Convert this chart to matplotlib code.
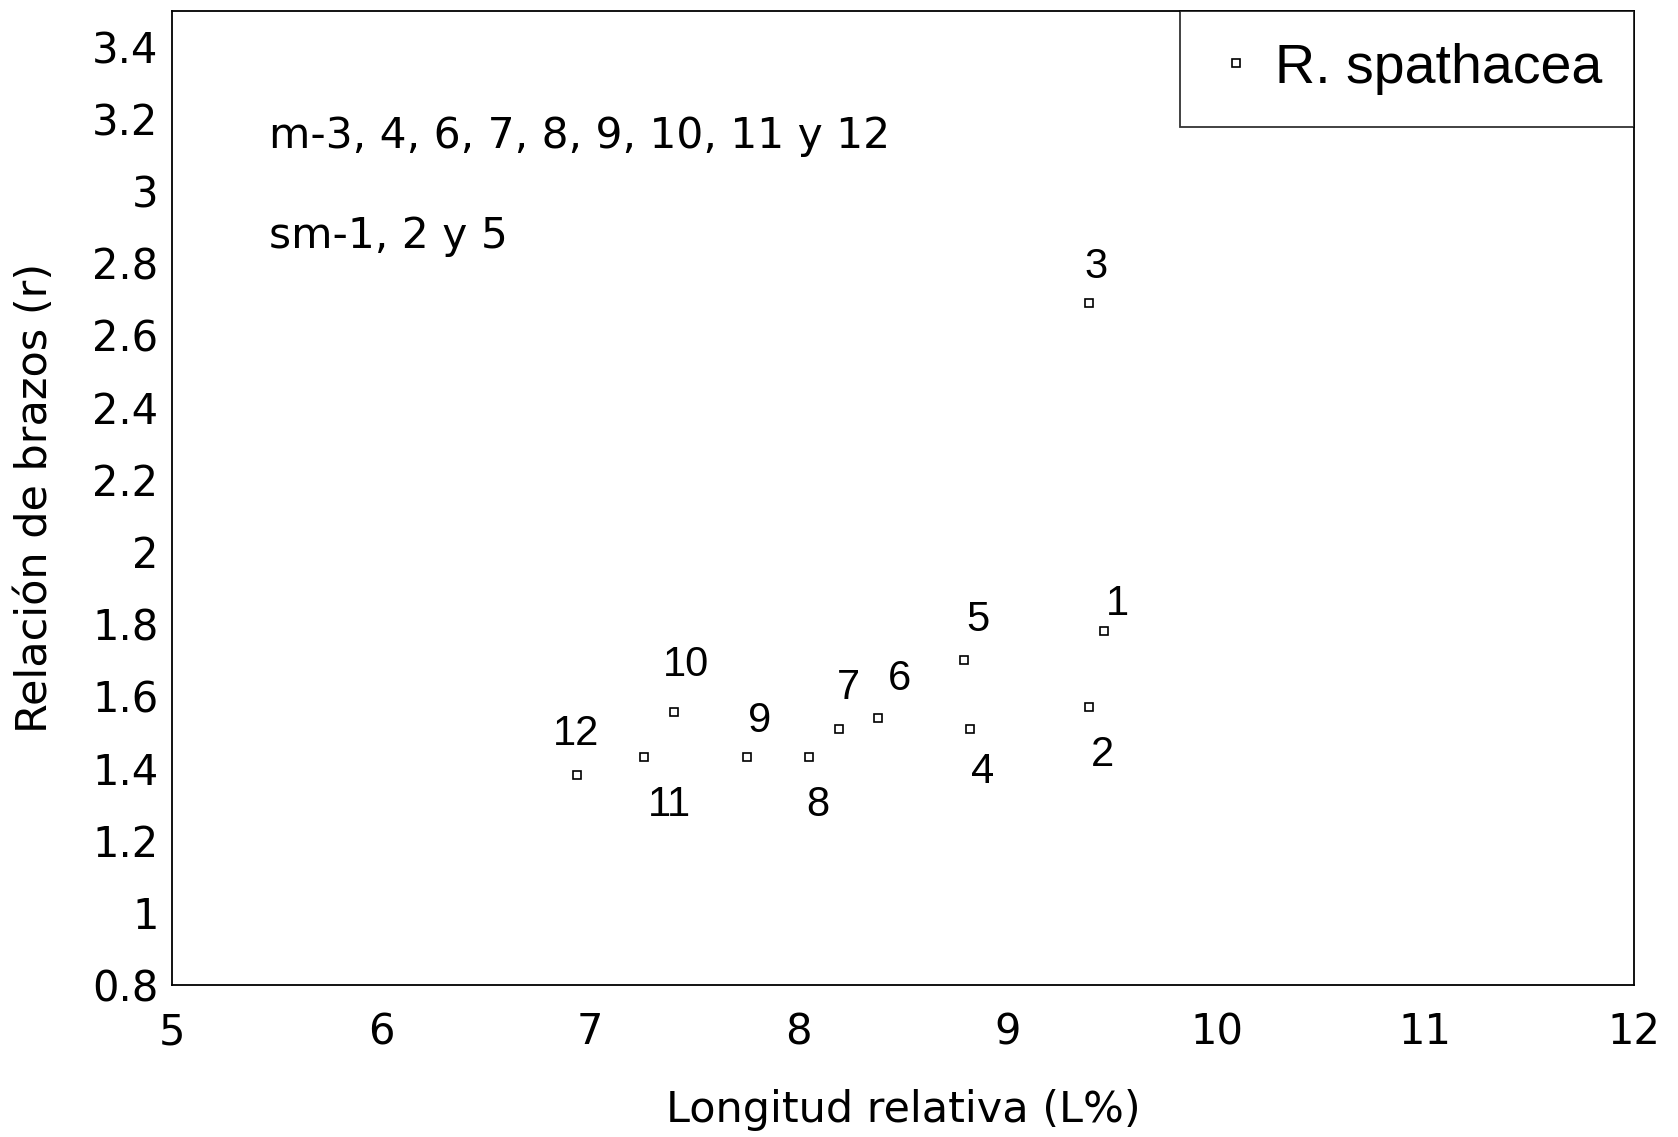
import matplotlib.pyplot as plt

# chromosome pairs: relative length (L%) vs arm ratio (r)
labels = ["1", "2", "3", "4", "5", "6", "7", "8", "9", "10", "11", "12"]
longitud = [9.46, 9.39, 9.39, 8.82, 8.79, 8.38, 8.19, 8.05, 7.75, 7.40, 7.26, 6.94]
relacion = [1.78, 1.57, 2.69, 1.51, 1.70, 1.54, 1.51, 1.43, 1.43, 1.555, 1.43, 1.38]
# label offsets in pixels
offsets = [(14, 27), (13, -48), (7, 36), (13, -43), (14, 40), (21, 39),
           (10, 41), (9, -48), (13, 36), (12, 47), (25, -48), (-1, 41)]

xticks = [5, 6, 7, 8, 9, 10, 11, 12]
yticks = [0.8, 1, 1.2, 1.4, 1.6, 1.8, 2, 2.2, 2.4, 2.6, 2.8, 3, 3.2, 3.4]
ytick_labels = ["0.8", "1", "1.2", "1.4", "1.6", "1.8", "2", "2.2", "2.4",
                "2.6", "2.8", "3", "3.2", "3.4"]

plt.rcParams['font.family'] = ['DejaVu Sans']
helv = ['Liberation Sans', 'DejaVu Sans']

fig = plt.figure(figsize=(16.78, 11.37), dpi=100)
ax = fig.add_axes([0.1027, 0.134, 0.8712, 0.8566])

ax.plot(longitud, relacion, 's', ms=6, mfc='white', mec='black', mew=1.2,
        label='R. spathacea')
for lab, x, y, off in zip(labels, longitud, relacion, offsets):
    ax.annotate(lab, (x, y), xytext=off, textcoords='offset pixels',
                ha='center', va='center', fontsize=30, family=helv)

ax.set_xlim(5, 12)
ax.set_ylim(0.8, 3.5)
ax.set_xticks(xticks)
ax.set_yticks(yticks)
ax.set_yticklabels(ytick_labels)
ax.tick_params(length=0, labelsize=30)
ax.tick_params(axis='y', pad=10)
ax.tick_params(axis='x', pad=19)
for s in ax.spines.values():
    s.set_linewidth(1.3)

ax.set_xlabel('Longitud relativa (L%)', fontsize=31, va='center')
ax.xaxis.set_label_coords(0.5, -0.129)
ax.set_ylabel('Relación de brazos (r)', fontsize=31, va='center', ha='center')
ax.yaxis.set_label_coords(-0.094, 0.5)

ax.text(0.066, 0.871, 'm-3, 4, 6, 7, 8, 9, 10, 11 y 12', transform=ax.transAxes,
        fontsize=30.5, va='center')
ax.text(0.066, 0.769, 'sm-1, 2 y 5', transform=ax.transAxes,
        fontsize=30.5, va='center')

leg = ax.legend(loc='upper right', bbox_to_anchor=(1.0, 1.0),
                prop={'family': helv, 'size': 40},
                frameon=True, fancybox=False, borderaxespad=0, handlelength=0.86,
                handletextpad=0.27, borderpad=0.58, markerscale=1.0)
leg.get_frame().set_edgecolor('black')
leg.get_frame().set_linewidth(1.3)

fig.savefig('out.png', dpi=100)
